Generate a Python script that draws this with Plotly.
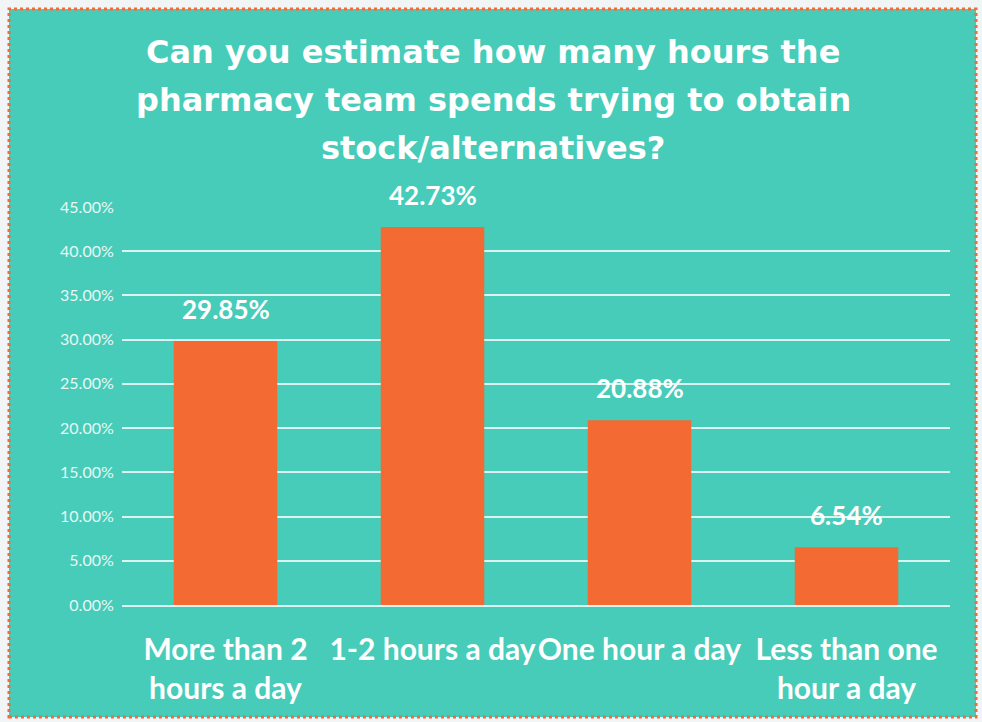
import plotly.graph_objects as go

categories = ["More than 2<br>hours a day", "1-2 hours a day", "One hour a day", "Less than one<br>hour a day"]
values = [29.85, 42.73, 20.88, 6.54]
value_labels = ["29.85%", "42.73%", "20.88%", "6.54%"]
y_ticks = [0, 5, 10, 15, 20, 25, 30, 35, 40, 45]
y_tick_labels = ["0.00%", "5.00%", "10.00%", "15.00%", "20.00%", "25.00%", "30.00%", "35.00%", "40.00%", "45.00%"]
title_lines = ["Can you estimate how many hours the", "pharmacy team spends trying to obtain", "stock/alternatives?"]

W, H = 982, 722
L, R, T, B = 122, 32, 207, 117
pw, ph = W - L - R, H - T - B

def px_x(p):
    return (p - L) / pw

def px_y(p):
    return (H - B - p) / ph

TEAL = "#46CCB8"
ORANGE = "#F36A33"

fig = go.Figure()
fig.add_trace(go.Bar(
    x=categories, y=values,
    marker=dict(color=ORANGE, line=dict(width=0)),
    hoverinfo="skip",
))

# frame
fig.add_shape(type="rect", xref="paper", yref="paper",
              x0=px_x(9), x1=px_x(976), y0=px_y(717), y1=px_y(9),
              fillcolor=TEAL, line=dict(color="#F26B38", width=3, dash="dot"), layer="below")

# data labels
for c, v, t in zip(categories, values, value_labels):
    fig.add_annotation(x=c, y=v, text="<b>" + t + "</b>", showarrow=False,
                       yanchor="bottom", yshift=14,
                       font=dict(family="Lato", size=26, color="white"))

# title lines
for i, line in enumerate(title_lines):
    fig.add_annotation(xref="paper", yref="paper", x=px_x(493), y=px_y(52 + 48 * i),
                       text="<b>" + line + "</b>", showarrow=False,
                       xanchor="center", yanchor="middle",
                       font=dict(family="DejaVu Sans", size=32, color="white"))

fig.update_layout(
    width=W, height=H,
    margin=dict(l=L, r=R, t=T, b=B, pad=0),
    paper_bgcolor="#F2F5F5",
    plot_bgcolor="rgba(0,0,0,0)",
    bargap=0.5,
    showlegend=False,
)
fig.update_yaxes(range=[0, 45], tickvals=y_ticks, ticktext=y_tick_labels,
                 showgrid=True, gridcolor="rgba(255,255,255,0.8)", gridwidth=2,
                 zeroline=False, showline=False,
                 ticks="outside", ticklen=4, tickcolor="rgba(0,0,0,0)",
                 tickfont=dict(family="Lato", size=16, color="#E8F8F5"))
fig.update_xaxes(showgrid=False, showline=True, linecolor="rgba(255,255,255,0.8)", linewidth=2,
                 ticks="outside", ticklen=17, tickcolor="rgba(0,0,0,0)",
                 tickfont=dict(family="Lato", size=30, color="white", weight="bold"))

fig.write_html("out.html", config={"displayModeBar": False},
               post_script="document.body.style.margin='0';")
